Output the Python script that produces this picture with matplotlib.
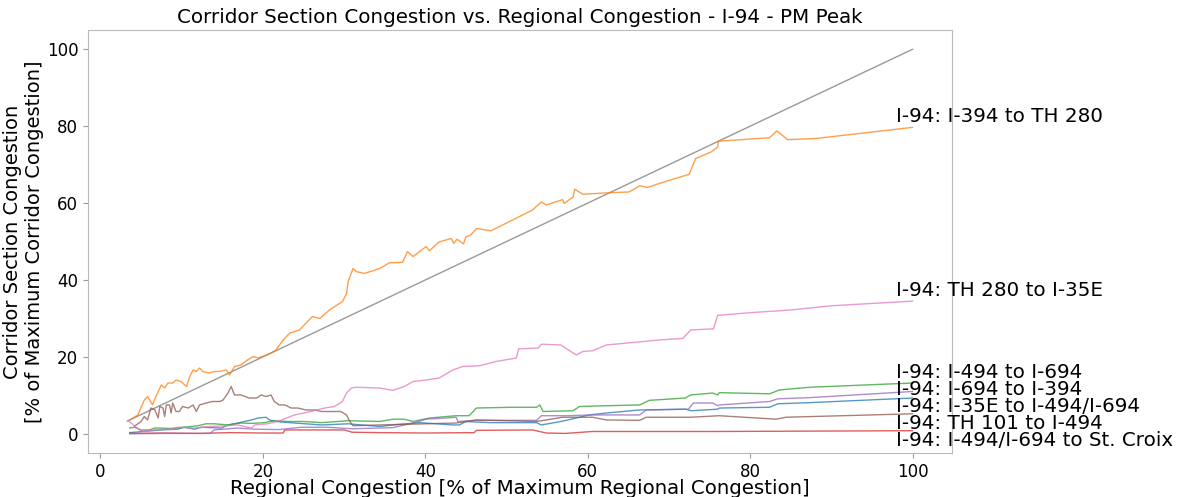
import matplotlib
matplotlib.use('Agg')
import matplotlib.pyplot as plt

# corridor sections, in plotting (colour) order
sections = ['I-94: I-35E to I-494/I-694',
	'I-94: I-394 to TH 280',
	'I-94: I-494 to I-694',
	'I-94: I-494/I-694 to St. Croix',
	'I-94: I-694 to I-394',
	'I-94: TH 101 to I-494',
	'I-94: TH 280 to I-35E']

# regional congestion (x) and corridor congestion (y), % of maximum
blue_x = [3.6, 7.5, 9.5, 10.3, 11.6, 12.4, 14.9, 15.7, 16.9, 18.6, 19.4, 20.4, 20.8, 21.6, 23.9, 27.2, 30.5,
	34.4, 36.0, 39.3, 43.4, 44.2, 45.0, 47.9, 53.7, 54.3, 56.7, 59.0, 60.2, 62.3, 66.4, 72.0, 72.8, 76.0,
	76.2, 82.4, 83.4, 87.3, 100]
blue_y = [0.3, 1.0, 1.2, 1.7, 1.2, 1.7, 1.5, 2.3, 2.8, 3.6, 4.1, 4.3, 3.6, 3.2, 2.8, 2.3, 2.6,
	1.9, 2.3, 2.9, 2.3, 2.3, 3.2, 2.9, 2.9, 2.3, 3.2, 4.3, 4.9, 5.4, 6.2, 6.4, 6.0, 6.4,
	6.7, 6.9, 7.8, 8.1, 9.3]

orange_x = [3.6, 4.6, 5.4, 5.8, 6.4, 6.9, 7.5, 7.9, 8.3, 8.9, 9.3, 9.9, 10.6, 11.0, 11.4, 11.8, 12.2, 12.6,
	13.4, 14.0, 14.7, 15.5, 15.9, 16.5, 17.3, 18.1, 18.8, 19.4, 20.2, 21.0, 21.6, 22.0, 22.5, 23.3, 24.5,
	25.5, 26.1, 27.0, 28.2, 29.8, 30.3, 30.5, 31.1, 31.5, 32.5, 34.4, 35.6, 37.2, 37.8, 38.5, 40.1, 40.5,
	41.7, 43.2, 43.5, 43.9, 44.7, 45.0, 45.6, 46.3, 48.1, 51.4, 53.2, 54.3, 54.9, 56.9, 57.1, 58.2, 58.4,
	59.4, 62.7, 65.1, 66.4, 67.4, 68.8, 72.5, 73.3, 75.2, 76.0, 76.1, 82.4, 83.3, 84.6, 88.1, 100]
orange_y = [3.6, 4.9, 8.8, 9.7, 7.5, 10.1, 12.7, 11.9, 13.2, 13.2, 14.0, 13.6, 12.3, 14.9, 16.6, 16.2, 17.1, 16.2,
	15.8, 16.2, 16.2, 16.6, 15.3, 17.5, 17.9, 19.2, 20.1, 19.7, 20.3, 21.0, 21.8, 23.0, 24.4, 26.2, 27.0,
	29.2, 30.5, 30.0, 32.2, 34.4, 36.5, 39.6, 43.0, 42.2, 41.7, 43.0, 44.5, 44.6, 47.4, 46.1, 48.7, 47.6,
	49.9, 50.8, 49.5, 50.6, 49.4, 51.2, 51.7, 53.4, 52.8, 56.3, 58.2, 60.3, 59.5, 60.9, 59.9, 61.6, 63.6,
	62.3, 62.7, 62.9, 64.5, 64.1, 65.1, 67.5, 71.6, 73.3, 74.6, 76.1, 77.0, 78.8, 76.5, 76.8, 79.7]

green_x = [3.6, 4.2, 5.0, 6.0, 6.7, 8.7, 10.3, 12.0, 13.0, 14.0, 15.7, 17.3, 18.6, 20.2, 21.4, 23.1, 25.0,
	27.2, 30.5, 34.4, 36.0, 37.4, 38.5, 40.5, 43.8, 45.4, 46.3, 50.8, 53.7, 54.1, 54.5, 58.2, 59.0, 62.3,
	66.4, 67.6, 72.0, 72.7, 75.4, 76.0, 76.2, 82.4, 83.6, 87.3, 100]
green_y = [1.5, 1.7, 1.0, 1.0, 1.5, 1.4, 1.7, 2.1, 2.6, 2.6, 2.3, 2.8, 2.7, 2.9, 3.4, 3.2, 3.2,
	2.9, 3.4, 3.2, 3.8, 3.8, 3.2, 4.1, 4.7, 4.7, 6.7, 6.9, 6.9, 7.5, 5.8, 6.0, 7.1, 7.3,
	7.5, 8.7, 9.3, 10.1, 10.6, 10.1, 10.7, 10.4, 11.4, 12.1, 13.2]

red_x = [3.6, 8.0, 12.0, 16.0, 20.0, 22.5, 22.7, 30.0, 31.0, 34.4, 40.0, 46.0, 46.3, 53.2, 54.9, 57.3, 60.6,
	76.0, 100]
red_y = [0.1, 0.2, 0.1, 0.3, 0.2, 0.2, 1.0, 1.0, 0.4, 0.3, 0.2, 0.3, 0.9, 1.0, 0.2, 0.1, 0.6,
	0.6, 0.8]

purple_x = [3.6, 8.0, 13.5, 14.0, 16.9, 19.0, 22.0, 24.7, 28.0, 31.0, 34.4, 36.0, 38.5, 40.1, 42.6, 43.8,
	44.0, 46.3, 53.7, 54.3, 57.3, 60.6, 66.4, 67.2, 72.4, 73.0, 75.4, 76.0, 76.2, 82.4, 83.4, 87.3, 100]
purple_y = [0.0, 0.1, 0.1, 1.0, 1.5, 1.2, 1.1, 1.7, 1.7, 1.3, 1.5, 1.6, 2.8, 3.8, 4.1, 4.3,
	3.2, 3.5, 3.5, 4.7, 4.7, 4.9, 4.9, 6.2, 6.4, 8.0, 8.0, 7.3, 7.5, 8.4, 9.1, 9.4, 11.0]

brown_x = [4.2, 5.0, 5.4, 5.8, 6.2, 6.7, 7.1, 7.3, 7.7, 7.9, 8.1, 8.5, 8.7, 8.9, 9.3, 9.7, 10.1, 10.8,
	11.4, 11.8, 12.2, 13.0, 13.8, 14.7, 15.1, 15.7, 16.1, 16.5, 17.3, 18.3, 19.2, 19.8, 20.4, 21.0, 21.4,
	22.0, 22.7, 23.5, 24.3, 25.3, 26.4, 27.2, 28.0, 29.6, 30.3, 30.7, 31.1, 34.4, 43.8, 46.3, 53.7, 56.9,
	60.6, 62.3, 66.4, 67.2, 72.7, 76.2, 83.2, 84.4, 100]
brown_y = [2.0, 3.2, 4.5, 3.6, 6.7, 6.2, 4.1, 7.1, 6.7, 4.5, 7.5, 7.5, 5.4, 8.0, 5.8, 5.8, 7.1, 6.7,
	7.5, 5.8, 7.5, 8.0, 8.4, 8.4, 8.8, 10.6, 12.3, 10.1, 10.1, 9.3, 9.3, 10.1, 9.7, 10.1, 8.4,
	7.5, 7.5, 6.7, 6.7, 6.2, 6.2, 5.8, 5.8, 5.8, 4.9, 3.2, 2.1, 2.3, 2.8, 3.6, 3.2, 4.3,
	4.3, 3.6, 3.5, 4.3, 4.3, 4.7, 3.8, 4.3, 5.2]

pink_x = [3.4, 4.8, 5.4, 6.4, 8.7, 9.5, 11.6, 13.4, 15.7, 16.9, 18.6, 19.0, 20.6, 22.3, 23.9, 25.9, 27.6,
	28.8, 29.8, 30.3, 30.9, 31.5, 34.4, 36.0, 37.4, 38.5, 40.1, 41.7, 43.4, 44.6, 46.7, 48.7, 51.2, 51.5,
	53.9, 54.3, 56.7, 58.2, 58.6, 59.4, 60.6, 62.3, 68.8, 71.7, 72.7, 75.5, 76.0, 80.0, 85.0, 90.0, 100]
pink_y = [3.4, 1.0, 0.6, 1.0, 1.2, 1.7, 1.5, 1.9, 2.1, 2.3, 1.5, 2.3, 2.6, 3.6, 4.9, 5.8, 6.7,
	7.1, 8.4, 10.6, 11.9, 12.1, 11.9, 11.3, 12.3, 13.6, 14.0, 14.5, 16.6, 17.5, 17.7, 18.8, 19.7, 22.1,
	22.3, 23.3, 23.1, 21.0, 20.5, 21.4, 21.6, 23.1, 24.4, 24.8, 27.0, 27.3, 30.8, 31.5, 32.2, 33.3, 34.5]

diag_x = [3.3, 100]

series_x = [blue_x, orange_x, green_x, red_x, purple_x, brown_x, pink_x]
series_y = [blue_y, orange_y, green_y, red_y, purple_y, brown_y, pink_y]

fig = plt.figure(figsize=(11.8, 4.97), dpi=100)
ax = fig.add_axes([0.0746, 0.0885, 0.732, 0.851])

ax.plot(diag_x, diag_x, color='gray', lw=1, alpha=0.8)
for i in range(len(sections)):
	ax.plot(series_x[i], series_y[i], color='C%d' % i, lw=1, alpha=0.75)

# labels at the line ends, pushed apart so they do not overlap
ends = sorted([(series_y[i][-1], sections[i]) for i in range(len(sections))], reverse=True)
prev = None
for endY, name in ends:
	ly = endY + 2.7
	if prev is not None and ly > prev - 4.4:
		ly = prev - 4.4
	prev = ly
	ax.text(98, ly, name, fontsize=14.3, ha='left', va='center', clip_on=False)

ax.set_title('Corridor Section Congestion vs. Regional Congestion - I-94 - PM Peak', fontsize=14.3, pad=5)
ax.set_xlabel('Regional Congestion [% of Maximum Regional Congestion]', fontsize=14.2, labelpad=-1)
ax.set_ylabel('Corridor Section Congestion\n[% of Maximum Corridor Congestion]', fontsize=14, labelpad=2)
ax.tick_params(labelsize=12, color='#999999')
for s in ax.spines.values():
	s.set_color('#bbbbbb')

fig.savefig('out.png', dpi=100)
